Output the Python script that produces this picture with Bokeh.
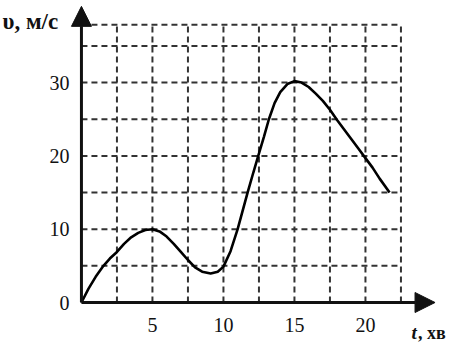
from bokeh.plotting import figure
from bokeh.models import Range1d, FixedTicker, Arrow, NormalHead, Label
from bokeh.embed import file_html
from bokeh.resources import INLINE

# ---- data ----
t_min = [0, 0.5, 1.0, 1.55, 2.0, 2.5, 3.0, 3.5, 4.0, 4.5, 5.0, 5.5, 6.0, 6.5, 7.0,
         7.5, 8.0, 8.5, 9.1, 9.6, 10.0, 10.5, 11.0, 11.35, 11.7, 12.1, 12.45, 12.85,
         13.2, 13.6, 14.0, 14.5, 15.0, 15.5, 16.0, 16.5, 17.0, 17.5, 18.0, 18.5,
         19.0, 19.5, 20.0, 20.5, 21.0, 21.7]
v_ms = [0, 1.9, 3.5, 5.0, 6.0, 6.9, 8.0, 8.9, 9.5, 9.9, 10.0, 9.7, 9.0, 8.0, 6.9,
        5.8, 4.8, 4.2, 3.95, 4.2, 4.9, 7.0, 10.0, 12.5, 15.0, 17.7, 20.0, 22.6,
        25.0, 27.2, 28.7, 29.8, 30.2, 30.0, 29.4, 28.5, 27.5, 26.3, 24.9, 23.6,
        22.3, 21.0, 19.7, 18.4, 16.9, 15.0]

x_ticks = [5, 10, 15, 20]
y_ticks = [0, 10, 20, 30]
grid_t = [2.5, 5, 7.5, 10, 12.5, 15, 17.5, 20, 22.5]
grid_v = [5, 10, 15, 20, 25, 30, 35, 37.9]
grid_right = 22.5
grid_top = 37.9
x_axis_end = 24.9
y_axis_end = 40.4

FONT = "Liberation Serif"
INK = "#111111"

p = figure(width=452, height=349,
           x_range=Range1d(-5.70, 26.13), y_range=Range1d(-6.41, 41.2),
           min_border=0,
           toolbar_location=None, output_backend="svg",
           outline_line_color=None, background_fill_color="white",
           border_fill_color="white")
p.grid.visible = False

for ax in (p.xaxis[0], p.yaxis[0]):
    ax.fixed_location = 0
    ax.axis_line_color = None
    ax.major_tick_line_color = None
    ax.minor_tick_line_color = None
    ax.major_label_text_font = FONT
    ax.major_label_text_font_size = "20px"
    ax.major_label_text_color = INK
p.xaxis[0].ticker = FixedTicker(ticks=x_ticks)
p.yaxis[0].ticker = FixedTicker(ticks=y_ticks)
p.xaxis[0].major_label_standoff = 9
p.yaxis[0].major_label_standoff = 6

# dashed grid, bounded to the drawing area
p.segment(x0=grid_t, y0=[0] * len(grid_t), x1=grid_t, y1=[grid_top] * len(grid_t),
          line_color="#333333", line_width=2, line_dash="6 4")
p.segment(x0=[0] * len(grid_v), y0=grid_v, x1=[grid_right] * len(grid_v), y1=grid_v,
          line_color="#333333", line_width=2, line_dash="6 4")

# curve
p.line(t_min, v_ms, line_color="black", line_width=2.6)

# axes with arrows
p.add_layout(Arrow(end=NormalHead(size=20, fill_color=INK, line_color=INK),
                   x_start=0, y_start=0, x_end=x_axis_end, y_end=0,
                   line_color=INK, line_width=3))
p.add_layout(Arrow(end=NormalHead(size=20, fill_color=INK, line_color=INK),
                   x_start=0, y_start=0, x_end=0, y_end=y_axis_end,
                   line_color=INK, line_width=3))

# axis titles
p.add_layout(Label(x=-5.56, y=38.3, text="υ, м/с", text_font=FONT,
                   text_font_size="23px", text_font_style="bold", text_color=INK,
                   text_baseline="alphabetic"))
p.add_layout(Label(x=23.25, y=-4.1, text="t", text_font=FONT,
                   text_font_size="19px", text_font_style="bold italic", text_color=INK,
                   text_baseline="alphabetic"))
p.add_layout(Label(x=23.7, y=-4.1, text=", хв", text_font=FONT,
                   text_font_size="18px", text_font_style="bold", text_color=INK,
                   text_baseline="alphabetic"))

open("out.html", "w").write(file_html(p, INLINE))
